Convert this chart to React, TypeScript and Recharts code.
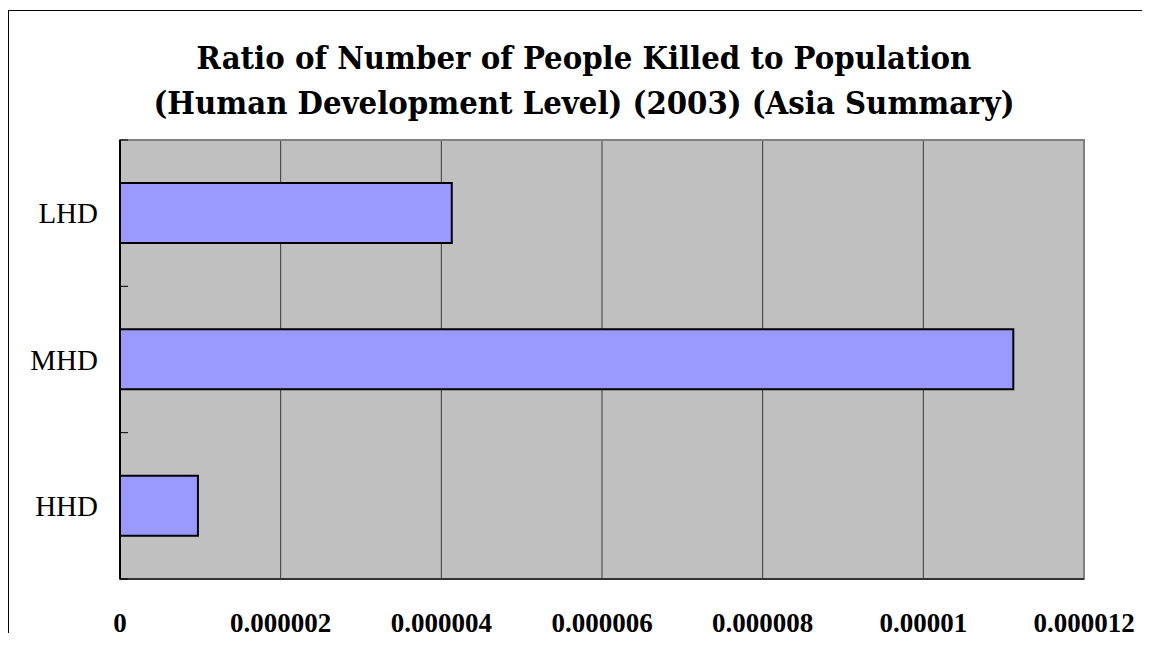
import { Bar, BarChart, CartesianGrid, ReferenceArea, XAxis, YAxis } from "recharts";

const LEVELS = ["LHD", "MHD", "HHD"];
const RATIOS = [0.00000413, 0.00001112, 0.00000097];

const X_TICKS = [0, 0.000002, 0.000004, 0.000006, 0.000008, 0.00001, 0.000012];
const X_TICK_LABELS = ["0", "0.000002", "0.000004", "0.000006", "0.000008", "0.00001", "0.000012"];

const TITLE_LINES = [
  "Ratio of Number of People Killed to Population",
  "(Human Development Level) (2003) (Asia Summary)",
];

const data = LEVELS.map((level, i) => ({ level, ratio: RATIOS[i] }));

const BAR_FILL = "#9999ff";
const PLOT_FILL = "#c0c0c0";
const Y_TICK_MARGIN = 22;
const INNER_TICK = 8;

// category label plus the short inward tick on the band edges (like the original)
function LevelTick(props: any) {
  const { x, y, payload, index, visibleTicksCount } = props;
  const half = payload?.offset || 0;
  const axisX = x + Y_TICK_MARGIN;
  const isLast = index === (visibleTicksCount ?? LEVELS.length) - 1;
  return (
    <g>
      <line x1={axisX} x2={axisX + INNER_TICK} y1={y - half} y2={y - half} stroke="#000" />
      {isLast && (
        <line x1={axisX} x2={axisX + INNER_TICK} y1={y + half} y2={y + half} stroke="#000" />
      )}
      <text
        x={x}
        y={y}
        dy="0.355em"
        textAnchor="end"
        fill="#000"
        fontFamily="'Liberation Serif', serif"
        fontSize={29}
      >
        {payload.value}
      </text>
    </g>
  );
}

export default function App() {
  return (
    <div
      style={{
        position: "relative",
        top: 2,
        width: 1134,
        height: 637,
        marginBottom: -12,
        boxSizing: "border-box",
        borderTop: "1px solid #000",
        borderLeft: "1px solid #000",
        overflow: "hidden",
        background: "#fff",
      }}
    >
      <div
        style={{
          position: "absolute",
          left: 0,
          top: 24,
          width: 1150,
          textAlign: "center",
          fontFamily: "'DejaVu Serif Condensed', 'DejaVu Serif', serif",
          fontStretch: "condensed",
          fontWeight: "bold",
          fontSize: 32.5,
          lineHeight: "45px",
          color: "#000",
        }}
      >
        {TITLE_LINES.map((line) => (
          <div key={line}>{line}</div>
        ))}
      </div>
      <BarChart
        width={1133}
        height={636}
        data={data}
        layout="vertical"
        margin={{ top: 129, right: 58, bottom: 9, left: 0 }}
      >
        <CartesianGrid horizontal={false} stroke="#3a3a3a" fill={PLOT_FILL} fillOpacity={1} />
        <XAxis
          type="number"
          dataKey="ratio"
          domain={[0, 0.000012]}
          ticks={X_TICKS}
          tickFormatter={(v: number) => X_TICK_LABELS[X_TICKS.indexOf(v)] ?? String(v)}
          height={59}
          tickLine={false}
          tickSize={0}
          tickMargin={34}
          axisLine={{ stroke: "#333", strokeWidth: 2 }}
          tick={{ fill: "#000", fontFamily: "'Liberation Serif', serif", fontWeight: "bold", fontSize: 27 }}
          interval={0}
        />
        <YAxis
          type="category"
          dataKey="level"
          width={111}
          tickLine={false}
          tickSize={0}
          tickMargin={Y_TICK_MARGIN}
          axisLine={{ stroke: "#000", strokeWidth: 2 }}
          tick={<LevelTick />}
          interval={0}
        />
        <ReferenceArea
          x1={0}
          x2={0.000012}
          fill="none"
          stroke="#808080"
          strokeWidth={2}
          ifOverflow="visible"
        />
        <Bar
          dataKey="ratio"
          fill={BAR_FILL}
          stroke="#000"
          strokeWidth={2}
          barSize={60}
          isAnimationActive={false}
        />
      </BarChart>
    </div>
  );
}
